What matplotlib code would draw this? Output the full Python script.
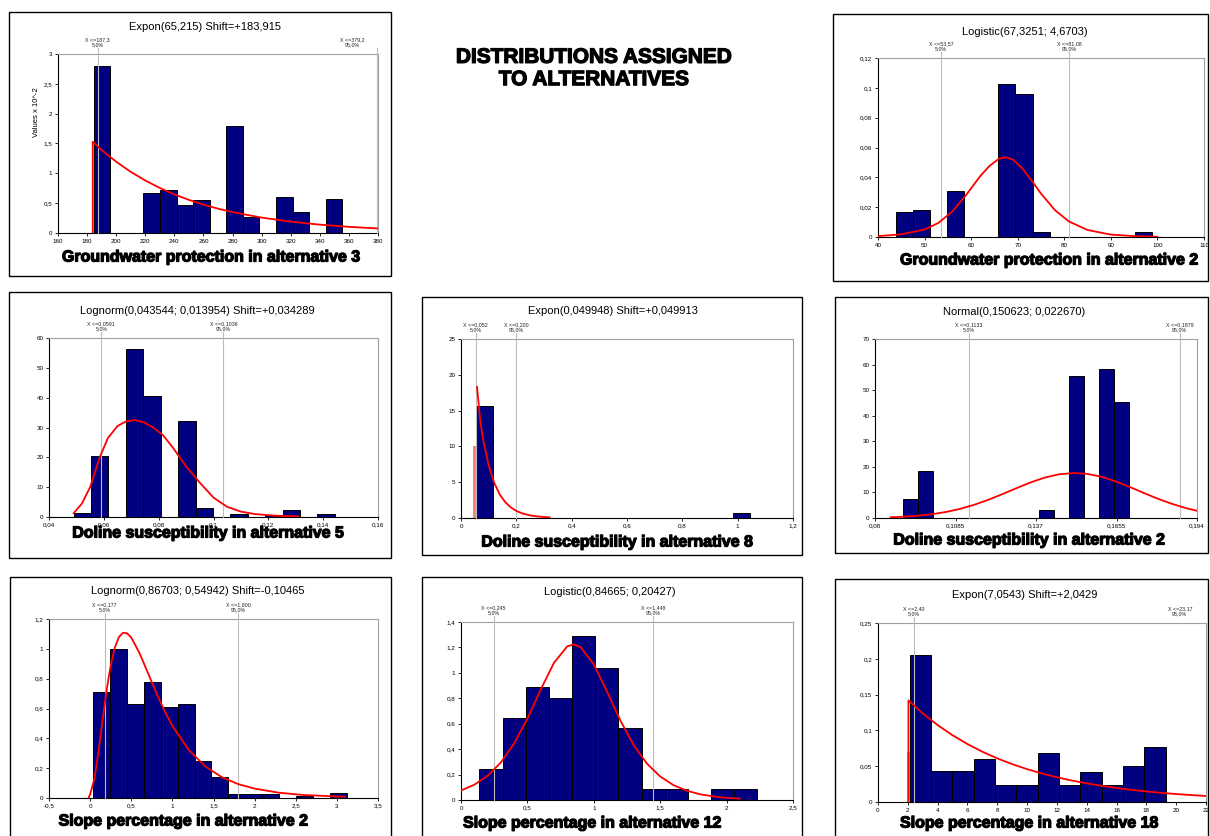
import numpy as np
import matplotlib
matplotlib.use('Agg')
import matplotlib.pyplot as plt
import matplotlib.patheffects as pe
from matplotlib.patches import Rectangle

W, H = 1210, 836
plt.rcParams['font.family'] = ['Liberation Sans', 'DejaVu Sans']

# ---- data ----
# 1: groundwater protection, alternative 3 (values x 10^-2)
g3_edges = [184.5, 195.9, 207.3, 218.7, 230.1, 241.5, 252.9, 264.3, 275.7, 287.1, 298.5, 309.9, 321.3, 332.7, 344.1, 355.5]
g3_heights = [2.8, 0, 0, 0.67, 0.72, 0.47, 0.55, 0, 1.8, 0.27, 0, 0.6, 0.36, 0, 0.57]
g3_fit_x = [183.9, 183.9, 190, 200, 210, 220, 230, 240, 250, 260, 270, 280, 300, 320, 340, 360, 380]
g3_fit_y = [0, 1.53, 1.39, 1.195, 1.025, 0.88, 0.755, 0.647, 0.555, 0.476, 0.408, 0.35, 0.258, 0.19, 0.14, 0.103, 0.076]
g3_pct = [(187.3, "X <=187,3\n5,0%"), (379.2, "X <=379,2\n95,0%")]

# 2: groundwater protection, alternative 2
g2_edges = [43.9, 47.56, 51.22, 54.88, 58.54, 62.2, 65.86, 69.52, 73.18, 76.84, 80.5, 84.16, 87.82, 91.48, 95.14, 98.8]
g2_heights = [0.0165, 0.018, 0, 0.0306, 0, 0, 0.1028, 0.096, 0.0034, 0, 0, 0, 0, 0, 0.0034]
g2_fit_x = [40, 45, 50, 53, 56, 59, 62, 64, 66, 67.33, 69, 71, 73, 75, 78, 81, 85, 90, 95, 100]
g2_fit_y = [0.0006, 0.0018, 0.005, 0.0095, 0.0172, 0.0285, 0.041, 0.0478, 0.0525, 0.0535, 0.0519, 0.046, 0.0378, 0.0291, 0.018, 0.0104, 0.0047, 0.0016, 0.0006, 0.0002]
g2_pct = [(53.57, "X <=53,57\n5,0%"), (81.08, "X <=81,08\n95,0%")]

# 3: doline susceptibility, alternative 5
d5_edges = [0.049, 0.0554, 0.0617, 0.0681, 0.0744, 0.0808, 0.0871, 0.0935, 0.0998, 0.1062, 0.1125, 0.1189, 0.1252, 0.1316, 0.1379, 0.1443]
d5_heights = [1.3, 20.5, 0, 56.4, 40.4, 0, 32.2, 3.0, 0, 1.0, 0, 0.8, 2.5, 0, 1.0]
d5_fit_x = [0.049, 0.052, 0.055, 0.0585, 0.0615, 0.065, 0.068, 0.0711, 0.0745, 0.078, 0.0815, 0.085, 0.09, 0.095, 0.1, 0.105, 0.11, 0.115, 0.12, 0.125, 0.131]
d5_fit_y = [1.3, 4.5, 10.0, 20.0, 26.5, 30.5, 32.0, 32.5, 31.8, 30.0, 27.5, 23.5, 17.0, 11.5, 6.5, 3.4, 1.8, 1.0, 0.6, 0.35, 0.2]
d5_pct = [(0.0591, "X <=0,0591\n5,0%"), (0.1036, "X <=0,1036\n95,0%")]

# 4: doline susceptibility, alternative 8
d8_edges = [0.054, 0.116, 0.178, 0.240, 0.302, 0.364, 0.426, 0.488, 0.550, 0.612, 0.674, 0.736, 0.798, 0.860, 0.922, 0.984, 1.046]
d8_heights = [15.65, 0, 0, 0, 0, 0, 0, 0, 0, 0, 0, 0, 0, 0, 0, 0.7]
d8_start_bar = (0.045, 0.054, 10.0)
d8_fit_x = [0.058, 0.07, 0.08, 0.1, 0.12, 0.14, 0.16, 0.18, 0.2, 0.22, 0.25, 0.28, 0.32]
d8_fit_y = [18.3, 13.4, 10.97, 7.35, 4.92, 3.29, 2.21, 1.48, 0.99, 0.66, 0.36, 0.2, 0.09]
d8_pct = [(0.0525, "X <=0,052\n5,0%"), (0.1996, "X <=0,200\n95,0%")]

# 5: doline susceptibility, alternative 2
d2_edges = [0.0898, 0.09515, 0.1005, 0.10585, 0.1112, 0.11655, 0.1219, 0.12725, 0.1326, 0.13795, 0.1433, 0.14865, 0.154, 0.15935, 0.1647, 0.17005]
d2_heights = [7.6, 18.5, 0, 0, 0, 0, 0, 0, 0, 3.3, 0, 55.7, 0, 58.4, 45.4]
d2_fit_x = [0.0855, 0.09, 0.095, 0.1, 0.105, 0.11, 0.115, 0.12, 0.125, 0.13, 0.135, 0.14, 0.145, 0.1506,
            0.155, 0.16, 0.165, 0.17, 0.175, 0.18, 0.185, 0.19, 0.194]
d2_fit_y = [0.29, 0.49, 0.87, 1.46, 2.33, 3.53, 5.12, 7.07, 9.29, 11.63, 13.88, 15.77, 17.07, 17.6,
            17.27, 16.16, 14.4, 12.22, 9.87, 7.6, 5.58, 3.89, 2.82]
d2_pct = [(0.1133, "X <=0,1133\n5,0%"), (0.1879, "X <=0,1879\n95,0%")]

# 6: slope percentage, alternative 2
s2_edges = [0.036, 0.2415, 0.447, 0.6525, 0.858, 1.0635, 1.269, 1.4745, 1.68, 1.8855, 2.091, 2.2965, 2.502, 2.7075, 2.913, 3.1185]
s2_heights = [0.708, 1.0, 0.63, 0.775, 0.612, 0.63, 0.25, 0.139, 0.027, 0.027, 0.027, 0, 0.015, 0, 0.034]
s2_fit_x = [-0.02, 0, 0.05, 0.1, 0.15, 0.2, 0.25, 0.3, 0.35, 0.4, 0.45, 0.5, 0.6, 0.7, 0.8, 0.9, 1.0,
            1.2, 1.4, 1.6, 1.8, 2.0, 2.3, 2.6, 3.0, 3.1]
s2_fit_y = [0, 0.024, 0.124, 0.302, 0.516, 0.721, 0.889, 1.008, 1.079, 1.108, 1.104, 1.076, 0.972, 0.842,
            0.711, 0.589, 0.484, 0.321, 0.212, 0.14, 0.093, 0.063, 0.035, 0.02, 0.01, 0.0085]
s2_pct = [(0.177, "X <=0,177\n5,0%"), (1.800, "X <=1,800\n95,0%")]

# 7: slope percentage, alternative 12
s12_edges = [0.138, 0.3125, 0.487, 0.6615, 0.836, 1.0105, 1.185, 1.3595, 1.534, 1.7085, 1.883, 2.0575, 2.232]
s12_heights = [0.24, 0.646, 0.885, 0.806, 1.293, 1.042, 0.57, 0.084, 0.084, 0, 0.084, 0.084]
s12_fit_x = [0, 0.1, 0.2, 0.3, 0.4, 0.5, 0.6, 0.7, 0.8, 0.8467, 0.9, 1.0, 1.1, 1.2, 1.3, 1.4, 1.5, 1.6,
             1.7, 1.8, 1.9, 2.0, 2.1]
s12_fit_y = [0.075, 0.12, 0.19, 0.295, 0.445, 0.64, 0.868, 1.079, 1.208, 1.224, 1.203, 1.067, 0.852, 0.625,
             0.432, 0.286, 0.185, 0.117, 0.073, 0.045, 0.028, 0.017, 0.011]
s12_pct = [(0.245, "X <=0,245\n5,0%"), (1.448, "X <=1,448\n95,0%")]

# 8: slope percentage, alternative 18
s18_edges = [2.12, 3.552, 4.984, 6.416, 7.848, 9.28, 10.712, 12.144, 13.576, 15.008, 16.44, 17.872, 19.304]
s18_heights = [0.206, 0.0428, 0.0428, 0.0605, 0.0233, 0.0233, 0.0684, 0.0233, 0.0424, 0.0233, 0.0503, 0.0768]
s18_start_bar = (1.94, 2.12, 0.07)
s18_fit_x = [2.043, 2.043, 3, 4, 5, 6, 7, 8, 9, 10, 11, 12, 13, 14, 15, 16, 17, 18, 19, 20, 21, 22]
s18_fit_y = [0, 0.1418, 0.1238, 0.1074, 0.0932, 0.0809, 0.0702, 0.0609, 0.0529, 0.0459, 0.0398, 0.0346,
             0.03, 0.026, 0.0226, 0.0196, 0.017, 0.0148, 0.0128, 0.0111, 0.0097, 0.0084]
s18_pct = [(2.40, "X <=2,40\n5,0%"), (23.17, "X <=23,17\n95,0%")]


fig = plt.figure(figsize=(W / 100, H / 100), dpi=100)
heavy = [pe.withStroke(linewidth=0.9, foreground='black')]


def fx(px):
    return px / W


def fy(py):
    return 1 - py / H


def panel(box, axpx, edges, heights, fit_x, fit_y, xlim, xticks, xtl, ylim, yticks, ytl,
          title, tpos, xlabel, lpos, pct, start_bar=None):
    l, t, r, b = box
    fig.patches.append(Rectangle((fx(l), fy(b)), (r - l) / W, (b - t) / H, transform=fig.transFigure,
                                 fill=False, ec='black', lw=1.0))
    al, at, ar, ab = axpx
    ax = fig.add_axes([fx(al), fy(ab), (ar - al) / W, (ab - at) / H])
    e = np.array(edges)
    h = np.array(heights)
    keep = h > 0
    ax.bar(e[:-1][keep], h[keep], width=np.diff(e)[keep], align='edge',
           color='#000080', edgecolor='black', linewidth=0.7, zorder=2)
    if start_bar:
        ax.bar(start_bar[0], start_bar[2], width=start_bar[1] - start_bar[0], align='edge',
               color='#f08878', linewidth=0, zorder=2)
    for xv, lab in pct:
        frac = (xv - xlim[0]) / (xlim[1] - xlim[0])
        if frac <= 1.0:
            ax.plot([xv, xv], [0, 1.035], color='#bcbcbc', lw=0.8, zorder=3, clip_on=False,
                    transform=ax.get_xaxis_transform())
        lx = frac if frac < 0.95 else 0.92
        ax.text(lx, 1.04, lab, transform=ax.transAxes, ha='center', va='bottom',
                fontsize=3.8, linespacing=1.0, color='#222222')
    ax.plot(fit_x, fit_y, color='#ff0000', lw=1.3, zorder=4)
    ax.set_xlim(xlim)
    ax.set_ylim(ylim)
    ax.set_xticks(xticks)
    ax.set_xticklabels(xtl)
    ax.set_yticks(yticks)
    ax.set_yticklabels(ytl)
    ax.tick_params(labelsize=4.5, length=2.5, width=0.6, pad=1.5, direction='out')
    for s in ['top', 'right']:
        ax.spines[s].set_color('#a0a0a0')
        ax.spines[s].set_linewidth(0.8)
    for s in ['left', 'bottom']:
        ax.spines[s].set_color('black')
        ax.spines[s].set_linewidth(0.8)
    fig.text(fx(tpos[0]), fy(tpos[1]), title, ha='center', va='center', fontsize=8)
    fig.text(fx(lpos[0]), fy(lpos[1]), xlabel, ha='center', va='center',
             fontsize=11.5, fontweight='bold', path_effects=heavy)
    return ax


def lab(vals):
    return [('%g' % v).replace('.', ',') for v in vals]


xt = list(range(160, 381, 20))
yt = [0, 0.5, 1, 1.5, 2, 2.5, 3]
panel((9, 12, 391, 276), (58, 54, 378, 233), g3_edges, g3_heights, g3_fit_x, g3_fit_y,
      (160, 380), xt, lab(xt), (0, 3), yt, lab(yt),
      "Expon(65,215) Shift=+183,915", (205, 27),
      "Groundwater protection in alternative 3", (212, 257), g3_pct)
fig.text(fx(36), fy(112), "Values x 10^-2", rotation=90, fontsize=5.5, ha='center', va='center')

xt = list(range(40, 111, 10))
yt = [0, 0.02, 0.04, 0.06, 0.08, 0.1, 0.12]
panel((833, 14, 1208, 281), (878, 58, 1204, 237), g2_edges, g2_heights, g2_fit_x, g2_fit_y,
      (40, 110), xt, lab(xt), (0, 0.12), yt, lab(yt),
      "Logistic(67,3251; 4,6703)", (1025, 32),
      "Groundwater protection in alternative 2", (1050, 260), g2_pct)

xt = [0.04, 0.06, 0.08, 0.1, 0.12, 0.14, 0.16]
yt = [0, 10, 20, 30, 40, 50, 60]
panel((9, 292, 391, 558), (49, 338, 378, 517), d5_edges, d5_heights, d5_fit_x, d5_fit_y,
      (0.04, 0.16), xt, lab(xt), (0, 60), yt, lab(yt),
      "Lognorm(0,043544; 0,013954) Shift=+0,034289", (197, 311),
      "Doline susceptibility in alternative 5", (209, 533), d5_pct)

xt = [0, 0.2, 0.4, 0.6, 0.8, 1.0, 1.2]
yt = [0, 5, 10, 15, 20, 25]
panel((422, 297, 802, 555), (461, 339, 793, 518), d8_edges, d8_heights, d8_fit_x, d8_fit_y,
      (0, 1.2), xt, lab(xt), (0, 25), yt, lab(yt),
      "Expon(0,049948) Shift=+0,049913", (613, 311),
      "Doline susceptibility in alternative 8", (618, 542), d8_pct, d8_start_bar)

xt = [0.08, 0.1085, 0.137, 0.1655, 0.194]
yt = [0, 10, 20, 30, 40, 50, 60, 70]
panel((835, 297, 1208, 553), (875, 339, 1197, 518), d2_edges, d2_heights, d2_fit_x, d2_fit_y,
      (0.08, 0.194), xt, lab(xt), (0, 70), yt, lab(yt),
      "Normal(0,150623; 0,022670)", (1014, 312),
      "Doline susceptibility in alternative 2", (1030, 540), d2_pct)

xt = [-0.5, 0, 0.5, 1, 1.5, 2, 2.5, 3, 3.5]
yt = [0, 0.2, 0.4, 0.6, 0.8, 1, 1.2]
panel((10, 577, 391, 840), (49, 619, 378, 798), s2_edges, s2_heights, s2_fit_x, s2_fit_y,
      (-0.5, 3.5), xt, lab(xt), (0, 1.2), yt, lab(yt),
      "Lognorm(0,86703; 0,54942) Shift=-0,10465", (198, 591),
      "Slope percentage in alternative 2", (184, 821), s2_pct)

xt = [0, 0.5, 1, 1.5, 2, 2.5]
yt = [0, 0.2, 0.4, 0.6, 0.8, 1, 1.2, 1.4]
panel((422, 577, 802, 840), (461, 622, 793, 800), s12_edges, s12_heights, s12_fit_x, s12_fit_y,
      (0, 2.5), xt, lab(xt), (0, 1.4), yt, lab(yt),
      "Logistic(0,84665; 0,20427)", (610, 592),
      "Slope percentage in alternative 12", (593, 823), s12_pct)

xt = list(range(0, 23, 2))
yt = [0, 0.05, 0.1, 0.15, 0.2, 0.25]
panel((835, 579, 1208, 840), (878, 623, 1206, 802), s18_edges, s18_heights, s18_fit_x, s18_fit_y,
      (0, 22), xt, lab(xt), (0, 0.25), yt, lab(yt),
      "Expon(7,0543) Shift=+2,0429", (1025, 595),
      "Slope percentage in alternative 18", (1030, 823), s18_pct, s18_start_bar)

fig.text(fx(594), fy(68.5), "DISTRIBUTIONS ASSIGNED\nTO ALTERNATIVES", ha='center', va='center',
         fontsize=15, fontweight='bold', linespacing=1.22, path_effects=heavy)

fig.savefig('out.png', dpi=100)
